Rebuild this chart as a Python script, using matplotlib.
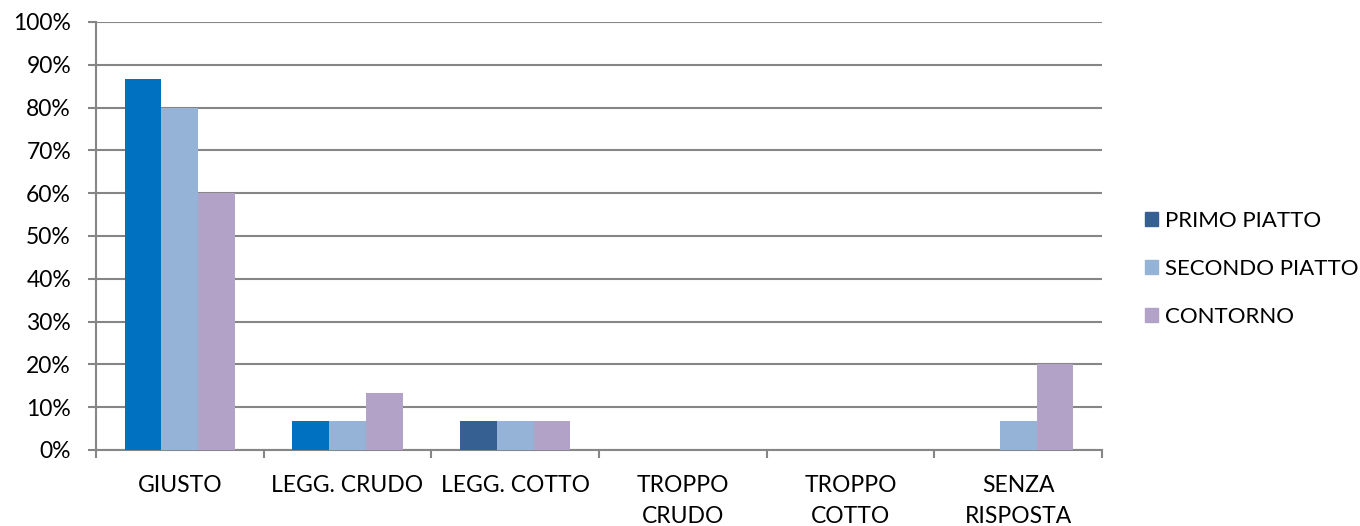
import matplotlib.pyplot as plt
import numpy as np
from matplotlib.patches import Patch
from matplotlib.ticker import PercentFormatter

categories = ["GIUSTO", "LEGG. CRUDO", "LEGG. COTTO", "TROPPO\nCRUDO", "TROPPO\nCOTTO", "SENZA\nRISPOSTA"]
primo = [86.67, 6.67, 6.67, 0, 0, 0]
secondo = [80.0, 6.67, 6.67, 0, 0, 6.67]
contorno = [60.0, 13.33, 6.67, 0, 0, 20.0]
series_names = ["PRIMO PIATTO", "SECONDO PIATTO", "CONTORNO"]

plt.rcParams['font.family'] = ['Lato', 'DejaVu Sans']
plt.rcParams['font.size'] = 16.5

dark_blue = "#366092"
light_blue = "#95b3d7"
purple = "#b2a2c7"
# the first series uses a brighter blue in the first two groups
primo_colors = ["#0070c0", "#0070c0", dark_blue, dark_blue, dark_blue, dark_blue]
grid_col = "#868686"

fig = plt.figure(figsize=(13.6, 5.26), dpi=100)
ax = fig.add_axes([96 / 1360, 76 / 526, 1006 / 1360, 428 / 526])

x = np.arange(len(categories))
w = 0.22
ax.bar(x - w, primo, w, color=primo_colors, zorder=3)
ax.bar(x, secondo, w, color=light_blue, zorder=3)
ax.bar(x + w, contorno, w, color=purple, zorder=3)

ax.set_xlim(-0.5, len(categories) - 0.5)
ax.set_ylim(0, 100)
ax.set_yticks(np.arange(0, 101, 10))
ax.yaxis.set_major_formatter(PercentFormatter(decimals=0))
ax.yaxis.grid(True, color=grid_col, linewidth=1.5, zorder=0)

ax.set_xticks(x)
ax.set_xticklabels(categories, linespacing=1.6)
ax.set_xticks(np.arange(-0.5, len(categories)), minor=True)
ax.tick_params(axis='x', which='major', length=0, pad=18)
ax.tick_params(axis='x', which='minor', length=6, width=1.5, color=grid_col)
ax.tick_params(axis='y', length=6, width=1.5, color=grid_col, pad=12)

for s in ['top', 'right']:
    ax.spines[s].set_visible(False)
for s in ['left', 'bottom']:
    ax.spines[s].set_color(grid_col)
    ax.spines[s].set_linewidth(1.5)

handles = [Patch(color=c) for c in [dark_blue, light_blue, purple]]
fig.legend(handles, series_names, loc='center left', bbox_to_anchor=(1145 / 1360, 257 / 526),
           frameon=False, borderpad=0, borderaxespad=0, handlelength=0.6, handleheight=0.6,
           handletextpad=0.3, labelspacing=1.25, fontsize=16)

fig.savefig("out.png", dpi=100)
